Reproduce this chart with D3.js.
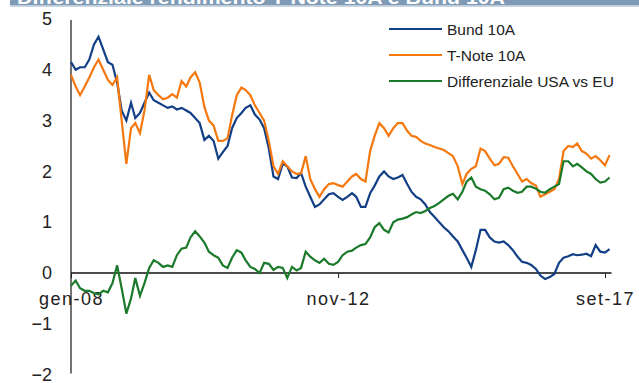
<!DOCTYPE html>
<html lang="it">
<head>
    <meta charset="utf-8">
    <script src="https://d3js.org/d3.v7.min.js"></script>
</head>
<body style="margin:0;background:#fff">
<style>
    text { font-family: "Liberation Sans", Arial, sans-serif; fill: #222; }
    .serie { fill: none; stroke-width: 2.2px; stroke-linejoin: miter; }
</style>
<svg></svg>
<script>
    const width = 639;
    const height = 383;

    // monthly readings, gen-2008 .. ott-2017
    const startDate = new Date(2008, 0, 1);
    const bund = [
        4.15, 4.0, 4.05, 4.05, 4.2, 4.5, 4.65, 4.4, 4.15, 4.1, 3.75, 3.2,
        3.0, 3.35, 3.05, 3.15, 3.35, 3.55, 3.4, 3.35, 3.3, 3.25, 3.28, 3.22,
        3.25, 3.2, 3.15, 3.05, 2.95, 2.62, 2.7, 2.6, 2.25, 2.38, 2.5, 2.85,
        3.05, 3.15, 3.25, 3.3, 3.12, 3.02, 2.85, 2.45, 1.9, 1.85, 2.15, 2.1,
        1.88, 1.87, 1.97, 1.7, 1.5, 1.3, 1.35, 1.45, 1.55, 1.57, 1.5, 1.44,
        1.5, 1.57, 1.5, 1.3, 1.3, 1.57, 1.72, 1.9, 2.0, 1.9, 1.85, 1.88,
        1.93, 1.75, 1.6, 1.5, 1.45, 1.35, 1.2, 1.1, 1.0, 0.9, 0.82, 0.72,
        0.62, 0.45, 0.3, 0.12, 0.45, 0.85, 0.85, 0.7, 0.62, 0.6, 0.62, 0.55,
        0.45, 0.32, 0.22, 0.2, 0.16, 0.08, -0.05, -0.12, -0.08, -0.02, 0.2, 0.3,
        0.33, 0.37, 0.35, 0.36, 0.38, 0.33, 0.55, 0.42, 0.4, 0.47
    ];
    const tnote = [
        3.9, 3.67, 3.5, 3.67, 3.85, 4.05, 4.2, 4.0, 3.8, 3.7, 3.85, 3.0,
        2.15, 2.85, 2.95, 2.75, 3.2, 3.9, 3.6, 3.5, 3.42, 3.45, 3.52, 3.45,
        3.78, 3.67, 3.85, 3.95, 3.75, 3.27, 3.0, 2.9, 2.6, 2.6, 2.65, 3.1,
        3.5, 3.65, 3.6, 3.5, 3.3, 3.15, 3.0, 2.6, 2.1, 1.95, 2.2, 2.1,
        2.0, 1.95, 1.96, 2.3, 1.85, 1.65, 1.5, 1.65, 1.75, 1.77, 1.73, 1.7,
        1.8, 1.9, 1.95, 1.85, 1.8, 2.4, 2.7, 2.95, 2.85, 2.7, 2.85, 2.95,
        2.95, 2.8, 2.7, 2.68, 2.6, 2.55, 2.52, 2.48, 2.45, 2.42, 2.36, 2.3,
        2.1, 1.75, 1.95, 2.05, 2.1, 2.45, 2.4, 2.25, 2.12, 2.15, 2.28, 2.27,
        2.1, 1.95, 1.8, 1.85, 1.77, 1.72, 1.5, 1.55, 1.6, 1.65, 1.85, 2.4,
        2.5, 2.48, 2.55, 2.4, 2.35, 2.25, 2.3, 2.22, 2.12, 2.32
    ];
    const differenziale = [
        -0.25, -0.15, -0.3, -0.35, -0.35, -0.4, -0.42, -0.35, -0.38, -0.2, 0.15, -0.3,
        -0.8, -0.5, -0.1, -0.45, -0.2, 0.1, 0.25, 0.2, 0.12, 0.15, 0.12, 0.35,
        0.48, 0.5, 0.7, 0.82, 0.72, 0.6, 0.42, 0.35, 0.3, 0.15, 0.1, 0.3,
        0.45, 0.4, 0.25, 0.12, 0.08, 0.0, 0.2, 0.18, 0.06, 0.12, 0.1, -0.1,
        0.12, 0.05, 0.1, 0.42, 0.32, 0.25, 0.2, 0.28, 0.18, 0.16, 0.22, 0.35,
        0.42, 0.44, 0.5, 0.55, 0.57, 0.7, 0.9, 0.98, 0.85, 0.8, 1.0, 1.05,
        1.07, 1.1, 1.15, 1.2, 1.18, 1.22, 1.28, 1.32, 1.38, 1.45, 1.52, 1.56,
        1.45, 1.6, 1.8, 1.88, 1.7, 1.65, 1.62, 1.55, 1.45, 1.48, 1.65, 1.68,
        1.62, 1.58, 1.6, 1.7, 1.7, 1.66, 1.6, 1.58, 1.65, 1.7, 1.75, 2.2,
        2.2, 2.1, 2.15, 2.08, 2.0, 1.95, 1.85, 1.78, 1.8, 1.88
    ];

    const seriesNames = ['Bund 10A', 'T-Note 10A', 'Differenziale USA vs EU'];
    const seriesColors = ['#123f86', '#f5780f', '#1a7a2a'];
    const yTicks = [-2, -1, 0, 1, 2, 3, 4, 5];
    const xTickDates = [new Date(2008, 0, 1), new Date(2012, 10, 1), new Date(2017, 8, 1)];
    const xTickLabels = ['gen-08', 'nov-12', 'set-17'];
    const title = 'Differenziale rendimento T-Note 10A e Bund 10A';

    const svg = d3.select('svg').attr('width', width).attr('height', height);

    // title banner, cut at the top edge
    svg.append('rect').attr('x', 10).attr('y', 0).attr('width', width - 10).attr('height', 5.5)
        .attr('fill', '#7f9ab5');
    svg.append('line').attr('x1', 10).attr('x2', width).attr('y1', 6.5).attr('y2', 6.5)
        .attr('stroke', '#c9d5e2').attr('stroke-width', 1);
    svg.append('text').attr('x', 17).attr('y', 4).attr('textLength', 488)
        .attr('lengthAdjust', 'spacingAndGlyphs')
        .style('font-size', '19px').style('font-weight', 'bold').style('fill', '#fff')
        .text(title);

    const x = d3.scaleTime()
        .domain([xTickDates[0], xTickDates[2]])
        .range([71, 605]);
    const y = d3.scaleLinear().domain([-2, 5]).range([374.6, 19]);

    const dateOf = (i) => new Date(startDate.getFullYear(), startDate.getMonth() + i, 1);

    // y axis
    const yAxis = svg.append('g').attr('transform', 'translate(71,0)')
        .call(d3.axisLeft(y).tickValues(yTicks).tickSize(0).tickPadding(19).tickFormat(d3.format('d')));
    yAxis.select('.domain').attr('stroke', '#444').attr('stroke-width', 1.5)
        .attr('d', `M0,${y(5) + 1}V${y(-2) - 1}`);
    yAxis.selectAll('text').style('font-size', '18px').style('fill', '#222');

    const allSeries = [bund, tnote, differenziale];
    const line = d3.line()
        .x((d, i) => x(dateOf(i)))
        .y((d) => y(d));

    // x axis at zero
    const xAxis = svg.append('g').attr('transform', `translate(0,${y(0)})`)
        .call(d3.axisBottom(x).tickValues(xTickDates).tickSize(5).tickPadding(14)
            .tickFormat((d, i) => xTickLabels[i]));
    xAxis.select('.domain').attr('stroke', '#111').attr('stroke-width', 1.5)
        .attr('d', `M71,0H${x(dateOf(bund.length - 1)) + 2}`);
    xAxis.selectAll('.tick line').attr('stroke', '#222');
    xAxis.selectAll('text').style('font-size', '18px').style('letter-spacing', '1.5px')
        .style('fill', '#222');

    svg.append('g').selectAll('path')
        .data(allSeries)
        .enter().append('path')
        .attr('class', 'serie')
        .attr('stroke', (d, i) => seriesColors[i])
        .attr('d', line);

    // legend
    const legend = svg.append('g').attr('transform', 'translate(389,29)');
    seriesNames.forEach((name, i) => {
        const row = legend.append('g').attr('transform', `translate(0,${i * 26})`);
        row.append('line').attr('x1', 0).attr('x2', 53).attr('y1', 0).attr('y2', 0)
            .attr('stroke', seriesColors[i]).attr('stroke-width', 2);
        row.append('text').attr('x', 58).attr('y', 5.5).style('font-size', '15.5px').text(name);
    });
</script>
</body>
</html>
